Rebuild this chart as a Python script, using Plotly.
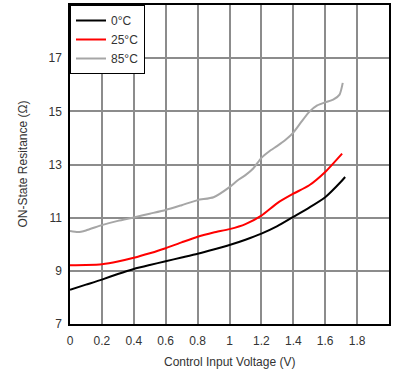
import plotly.graph_objects as go

# 0°C
x_0c = [0.0, 0.1, 0.2, 0.3, 0.4, 0.5, 0.6, 0.7, 0.8, 0.9, 1.0, 1.1, 1.2, 1.3, 1.4, 1.5, 1.6, 1.7, 1.725]
y_0c = [8.29, 8.48, 8.67, 8.88, 9.07, 9.22, 9.36, 9.50, 9.64, 9.80, 9.97, 10.17, 10.40, 10.68, 11.03, 11.38, 11.77, 12.36, 12.53]
# 25°C
x_25c = [0.0, 0.1, 0.2, 0.3, 0.4, 0.5, 0.6, 0.7, 0.8, 0.9, 1.0, 1.1, 1.2, 1.3, 1.4, 1.5, 1.6, 1.706]
y_25c = [9.21, 9.22, 9.25, 9.35, 9.49, 9.66, 9.85, 10.07, 10.28, 10.44, 10.57, 10.76, 11.08, 11.55, 11.9, 12.22, 12.72, 13.41]
# 85°C
x_85c = [0.0, 0.05, 0.1, 0.2, 0.3, 0.4, 0.5, 0.6, 0.7, 0.8, 0.9, 1.0, 1.05, 1.1, 1.15, 1.2, 1.25, 1.3, 1.35,
         1.4, 1.45, 1.5, 1.55, 1.6, 1.65, 1.69, 1.71]
y_85c = [10.50, 10.46, 10.52, 10.72, 10.88, 11.01, 11.15, 11.29, 11.47, 11.66, 11.77, 12.15, 12.4, 12.6, 12.86,
         13.25, 13.5, 13.7, 13.92, 14.2, 14.6, 14.98, 15.22, 15.34, 15.44, 15.63, 16.07]

x_ticks = [0, 0.2, 0.4, 0.6, 0.8, 1, 1.2, 1.4, 1.6, 1.8]
x_tick_labels = ["0", "0.2", "0.4", "0.6", "0.8", "1", "1.2", "1.4", "1.6", "1.8"]
y_ticks = [7, 9, 11, 13, 15, 17]
y_tick_labels = ["7", "9", "11", "13", "15", "17"]
x_title = "Control Input Voltage (V)"
y_title = "ON-State Resitance (Ω)"

series = [
    ("0°C", x_0c, y_0c, "#000000"),
    ("25°C", x_25c, y_25c, "#ff0000"),
    ("85°C", x_85c, y_85c, "#a6a6a6"),
]

fig = go.Figure()
for name, xs, ys, col in series:
    fig.add_trace(go.Scatter(x=xs, y=ys, name=name, mode="lines",
                             line=dict(color=col, width=2, shape="spline", smoothing=0.6)))

FAM = "Arial"
TXT = "#333333"
font = dict(family=FAM, size=12, color=TXT)
fig.update_layout(
    width=406, height=375,
    margin=dict(l=70, r=17, t=5, b=51, autoexpand=False),
    paper_bgcolor="white", plot_bgcolor="white",
    font=font,
    showlegend=True,
    legend=dict(x=0, y=1, xanchor="left", yanchor="top",
                bgcolor="white", bordercolor="black", borderwidth=1,
                font=dict(family=FAM, size=12, color=TXT),
                tracegroupgap=0),
    xaxis=dict(range=[0, 2], tickvals=x_ticks + [2], ticktext=x_tick_labels + [""],
               showgrid=True, gridcolor="#8c8c8c", gridwidth=1.5,
               showline=True, linecolor="black", linewidth=1.5, mirror=True,
               ticks="outside", ticklen=5, tickcolor="rgba(0,0,0,0)",
               zeroline=False, automargin=False,
               tickfont=dict(family=FAM, size=12, color=TXT)),
    yaxis=dict(range=[7, 19], tickvals=y_ticks + [19], ticktext=y_tick_labels + [""],
               showgrid=True, gridcolor="#8c8c8c", gridwidth=1.5,
               showline=True, linecolor="black", linewidth=1.5, mirror=True,
               ticks="outside", ticklen=4, tickcolor="rgba(0,0,0,0)",
               zeroline=False, automargin=False,
               tickfont=dict(family=FAM, size=12, color=TXT)),
    annotations=[
        dict(text=x_title, xref="paper", yref="paper", x=0.5, y=0, yshift=-38,
             xanchor="center", yanchor="middle", showarrow=False,
             font=dict(family=FAM, size=12, color=TXT)),
        dict(text=y_title, xref="paper", yref="paper", x=0, y=0.5, xshift=-48,
             xanchor="center", yanchor="middle", showarrow=False, textangle=-90,
             font=dict(family=FAM, size=12, color=TXT)),
    ],
)

fig.write_html("out.html", config={"displayModeBar": False},
               post_script="document.body.style.margin='0';document.body.style.padding='0';")
